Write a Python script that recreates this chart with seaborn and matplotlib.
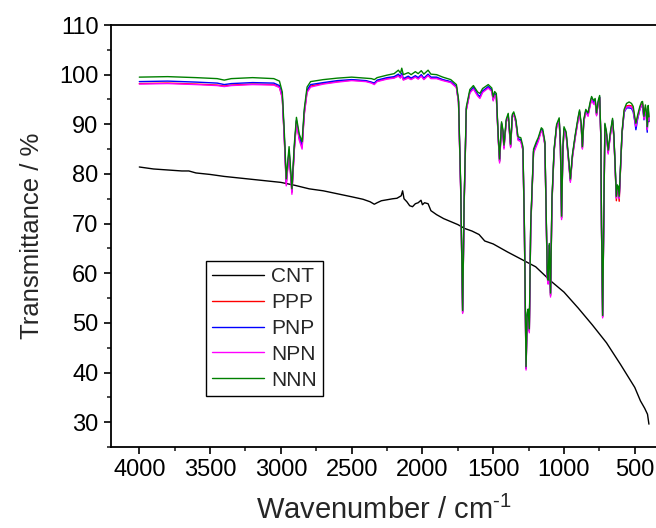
import pandas as pd
import matplotlib
matplotlib.use("Agg")
from matplotlib import pyplot as plt
from matplotlib.ticker import MultipleLocator
import seaborn as sns

# wavenumber grid (cm-1) shared by the four coated samples
WAVENUMBER = [
    4000, 3800, 3600, 3450, 3400, 3350, 3200, 3050, 3010, 2990,
    2975, 2962, 2942, 2922, 2905, 2890, 2870, 2850, 2835, 2815,
    2790, 2700, 2600, 2500, 2400, 2360, 2340, 2320, 2250, 2200,
    2170, 2155, 2146, 2135, 2100, 2080, 2050, 2030, 2008, 1990,
    1960, 1940, 1900, 1856, 1800, 1760, 1745, 1730, 1716, 1705,
    1690, 1665, 1640, 1610, 1594, 1575, 1535, 1510, 1500, 1490,
    1478, 1465, 1455, 1441, 1432, 1424, 1408, 1394, 1377, 1365,
    1355, 1340, 1325, 1305, 1290, 1280, 1268, 1260, 1253, 1245,
    1235, 1215, 1195, 1182, 1160, 1150, 1135, 1118, 1112, 1104,
    1095, 1085, 1070, 1052, 1034, 1025, 1017, 1008, 1000, 985,
    970, 955, 940, 920, 900, 890, 878, 870, 860, 846,
    830, 815, 805, 795, 789, 780, 770, 758, 748, 740,
    735, 727, 720, 711, 700, 688, 672, 657, 648, 640,
    630, 623, 617, 610, 603, 590, 575, 558, 540, 523,
    511, 500, 492, 480, 464, 452, 445, 435, 425, 418,
    412, 405, 400,
]

PPP = [
    98.2, 98.3, 98.1, 97.9, 97.7, 97.9, 98.1, 98.0, 97.5, 95.4,
    86.8, 78.0, 84.5, 76.3, 85.0, 90.6, 87.1, 85.4, 92.1, 96.6,
    97.7, 98.2, 98.6, 98.9, 98.7, 98.4, 98.2, 98.7, 99.2, 99.4,
    99.8, 99.4, 100.0, 99.0, 99.4, 99.1, 99.6, 99.2, 99.9, 99.1,
    99.9, 99.3, 99.3, 98.9, 98.5, 97.5, 94.5, 77.3, 52.1, 74.3,
    93.0, 96.5, 97.3, 95.9, 95.4, 96.6, 97.5, 96.8, 94.9, 96.1,
    95.7, 87.5, 82.5, 90.1, 88.5, 85.3, 90.6, 91.8, 85.5, 91.6,
    92.1, 90.5, 87.0, 86.8, 84.9, 69.4, 40.8, 51.5, 52.3, 48.3,
    69.4, 84.5, 85.9, 86.8, 88.9, 88.5, 86.0, 59.4, 58.1, 65.6,
    55.5, 74.4, 84.6, 89.6, 90.9, 85.5, 71.1, 84.5, 89.0, 88.0,
    83.5, 78.6, 83.6, 87.6, 91.0, 92.5, 89.5, 85.2, 90.6, 92.6,
    91.9, 94.0, 95.2, 94.5, 94.3, 94.8, 91.9, 94.4, 95.4, 87.7,
    69.5, 51.2, 67.7, 89.8, 88.0, 84.3, 88.0, 90.8, 87.6, 82.4,
    74.6, 77.2, 76.8, 74.5, 79.3, 88.2, 92.7, 93.7, 93.8, 93.7,
    93.0, 91.0, 89.8, 91.4, 93.2, 94.0, 94.2, 91.2, 93.4, 92.0,
    89.0, 93.0, 90.5,
]

PNP = [
    98.6, 98.7, 98.5, 98.3, 98.0, 98.2, 98.4, 98.3, 97.8, 95.7,
    87.1, 78.3, 84.8, 76.5, 85.3, 90.8, 87.4, 85.8, 92.4, 96.9,
    98.0, 98.4, 98.8, 99.0, 98.8, 98.5, 98.3, 98.9, 99.4, 99.6,
    100.1, 99.6, 100.3, 99.2, 99.7, 99.3, 99.8, 99.4, 100.0, 99.3,
    100.1, 99.5, 99.5, 99.0, 98.6, 97.6, 94.6, 77.5, 52.2, 74.5,
    93.1, 96.6, 97.4, 96.0, 95.6, 96.7, 97.6, 96.9, 95.0, 96.2,
    95.8, 87.6, 82.6, 90.2, 88.6, 85.4, 90.7, 91.9, 85.6, 91.7,
    92.2, 90.6, 87.1, 86.9, 85.0, 69.5, 40.9, 51.6, 52.4, 48.4,
    69.5, 84.6, 86.0, 86.9, 89.0, 88.6, 86.1, 59.5, 58.2, 65.7,
    55.6, 74.5, 84.7, 89.7, 91.0, 85.6, 71.2, 84.6, 89.1, 88.1,
    83.6, 78.7, 83.7, 87.7, 91.1, 92.6, 89.6, 85.3, 90.7, 92.7,
    92.0, 94.1, 95.3, 94.6, 94.4, 94.9, 92.0, 94.5, 95.5, 87.8,
    69.6, 51.3, 67.8, 89.9, 88.1, 84.4, 88.1, 90.9, 87.7, 82.5,
    75.3, 77.5, 77.2, 75.2, 79.7, 88.1, 92.4, 93.3, 93.3, 93.2,
    92.5, 90.6, 88.9, 91.0, 93.0, 93.8, 93.9, 90.9, 93.2, 91.6,
    88.4, 93.0, 90.6,
]

NPN = [
    98.1, 98.2, 98.0, 97.8, 97.6, 97.8, 98.0, 97.9, 97.4, 95.3,
    86.5, 77.6, 84.2, 75.9, 84.8, 90.3, 86.8, 85.0, 91.8, 96.4,
    97.5, 98.1, 98.5, 98.8, 98.6, 98.3, 98.0, 98.6, 99.1, 99.3,
    99.7, 99.3, 99.9, 98.9, 99.3, 99.0, 99.5, 99.1, 99.7, 99.0,
    99.8, 99.2, 99.2, 98.8, 98.4, 97.4, 94.3, 77.0, 51.9, 74.0,
    92.8, 96.3, 97.1, 95.7, 95.2, 96.4, 97.3, 96.6, 94.7, 95.9,
    95.5, 87.3, 82.2, 89.9, 88.2, 85.0, 90.4, 91.6, 85.3, 91.4,
    92.0, 90.3, 86.8, 86.5, 84.7, 69.0, 40.5, 51.2, 52.0, 48.0,
    69.0, 84.2, 85.6, 86.5, 88.7, 88.3, 85.8, 59.0, 57.8, 65.3,
    55.2, 74.0, 84.3, 89.3, 90.7, 85.2, 70.8, 84.2, 88.8, 87.8,
    83.2, 78.3, 83.3, 87.3, 90.8, 92.3, 89.3, 85.0, 90.4, 92.4,
    91.6, 93.8, 95.0, 94.3, 94.0, 94.6, 91.7, 94.2, 95.2, 87.5,
    69.2, 51.0, 67.5, 89.6, 87.8, 84.0, 87.8, 90.6, 87.3, 82.2,
    75.1, 77.3, 77.0, 75.0, 79.5, 88.0, 92.5, 93.5, 93.6, 93.5,
    92.8, 90.8, 89.6, 91.2, 93.0, 93.8, 94.0, 91.0, 93.2, 91.8,
    88.9, 93.1, 90.8,
]

NNN = [
    99.5, 99.6, 99.4, 99.2, 98.9, 99.2, 99.4, 99.2, 98.7, 96.5,
    88.0, 79.0, 85.5, 77.0, 86.0, 91.4, 88.0, 86.5, 93.0, 97.5,
    98.6, 99.0, 99.3, 99.5, 99.3, 99.2, 99.0, 99.4, 99.9, 100.2,
    100.9, 100.3, 101.3, 100.0, 100.4, 100.0, 100.6, 100.2, 100.8, 100.1,
    100.9, 100.1, 100.0, 99.5, 99.0, 98.0, 95.0, 78.0, 52.5, 75.0,
    93.5, 97.0, 97.8, 96.5, 96.2, 97.2, 98.0, 97.3, 95.5, 96.6,
    96.2, 88.0, 83.0, 90.5, 89.0, 85.8, 91.0, 92.2, 86.0, 92.0,
    92.5, 91.0, 87.5, 87.3, 85.5, 70.0, 41.2, 52.0, 52.8, 48.8,
    70.0, 85.0, 86.5, 87.3, 89.3, 89.0, 86.5, 60.0, 58.6, 66.0,
    56.0, 75.0, 85.0, 90.0, 91.3, 86.0, 71.5, 85.0, 89.5, 88.5,
    84.0, 79.0, 84.0, 88.0, 91.5, 92.9, 90.0, 85.5, 91.0, 93.0,
    92.3, 94.5, 95.6, 95.0, 94.8, 95.2, 92.3, 94.8, 95.8, 88.0,
    70.0, 51.5, 68.0, 90.2, 88.5, 84.8, 88.5, 91.2, 88.0, 82.8,
    75.5, 77.8, 77.5, 75.5, 80.0, 88.5, 93.0, 94.2, 94.5, 94.2,
    93.6, 91.5, 90.2, 91.8, 93.6, 94.5, 94.6, 91.6, 93.9, 92.5,
    89.5, 93.8, 91.5,
]

# bare CNT film, own grid
WAVENUMBER_CNT = [
    4000, 3900, 3800, 3700, 3650, 3600, 3500, 3400, 3300, 3200,
    3100, 3000, 2900, 2800, 2700, 2600, 2500, 2420, 2370, 2340,
    2320, 2290, 2250, 2210, 2180, 2150, 2140, 2130, 2110, 2090,
    2070, 2050, 2030, 2010, 2000, 1985, 1960, 1940, 1900, 1850,
    1800, 1750, 1700, 1650, 1600, 1560, 1500, 1450, 1400, 1300,
    1200, 1100, 1000, 900, 800, 700, 600, 550, 500, 460,
    430, 410, 402, 400,
]
CNT = [
    81.4, 81.0, 80.8, 80.6, 80.6, 80.2, 79.9, 79.5, 79.2, 78.9,
    78.6, 78.3, 77.7, 77.0, 76.6, 76.0, 75.4, 74.9, 74.4, 73.9,
    74.2, 74.6, 74.8, 75.0, 75.1, 75.6, 76.6, 75.0, 74.4, 73.6,
    73.4, 74.0, 74.2, 74.7, 73.8, 74.2, 74.0, 72.6, 71.8, 71.0,
    70.4, 69.8, 69.0, 68.5, 67.8, 66.5, 65.9, 65.1, 64.3, 62.8,
    61.3, 58.6, 56.2, 53.0, 49.6, 46.0, 41.6, 39.3, 37.0, 34.3,
    32.8, 31.6, 30.0, 29.6,
]

SERIES = ["CNT", "PPP", "PNP", "NPN", "NNN"]
COLORS = ["black", "#ff0000", "#0000ff", "#ff00ff", "#008000"]

frames = [pd.DataFrame({"Wavenumber": WAVENUMBER_CNT, "T": CNT, "Sample": "CNT"})]
for name, vals in zip(SERIES[1:], [PPP, PNP, NPN, NNN]):
    frames.append(pd.DataFrame({"Wavenumber": WAVENUMBER, "T": vals, "Sample": name}))
df = pd.concat(frames, ignore_index=True)

sns.set_style("ticks")
plt.rcParams["font.family"] = ["Liberation Sans", "DejaVu Sans"]
plt.rcParams["mathtext.fontset"] = "custom"
plt.rcParams["mathtext.rm"] = "Liberation Sans"
plt.rcParams["mathtext.it"] = "Liberation Sans:italic"

fig = plt.figure(figsize=(6.56, 5.28), dpi=100)
ax = fig.add_axes([111 / 656, 81 / 528, 545 / 656, 422 / 528])

sns.lineplot(data=df, x="Wavenumber", y="T", hue="Sample", hue_order=SERIES,
             palette=COLORS, estimator=None, sort=False, linewidth=1.0, ax=ax)

ax.set_xlim(4200, 350)
ax.set_ylim(25, 110)
ax.xaxis.set_major_locator(MultipleLocator(500))
ax.xaxis.set_minor_locator(MultipleLocator(250))
ax.yaxis.set_major_locator(MultipleLocator(10))
ax.yaxis.set_minor_locator(MultipleLocator(5))
ax.tick_params(which="major", direction="out", length=5, width=1.2, labelsize=17,
               colors="black", pad=4)
ax.tick_params(which="minor", direction="out", length=3, width=1.2)
for side in ["left", "bottom", "top"]:
    ax.spines[side].set_linewidth(1.3)
    ax.spines[side].set_color("black")
    ax.spines[side].set_visible(True)
ax.spines["right"].set_visible(False)

ax.set_xlabel("Wavenumber / cm$^{\u2010\\mathrm{1}}$", fontsize=21, labelpad=10)
ax.set_ylabel("Transmittance / %", fontsize=18.5, labelpad=11)

handles, labels = ax.get_legend_handles_labels()
leg = ax.legend(handles, labels, loc="upper left", bbox_to_anchor=(0.174, 0.441),
                fontsize=15, frameon=True, fancybox=False, framealpha=1,
                edgecolor="black", handlelength=2.5, labelspacing=0.33,
                borderpad=0.3, handletextpad=0.35, borderaxespad=0)
leg.get_frame().set_linewidth(1.0)

fig.savefig("out.png", dpi=100)
